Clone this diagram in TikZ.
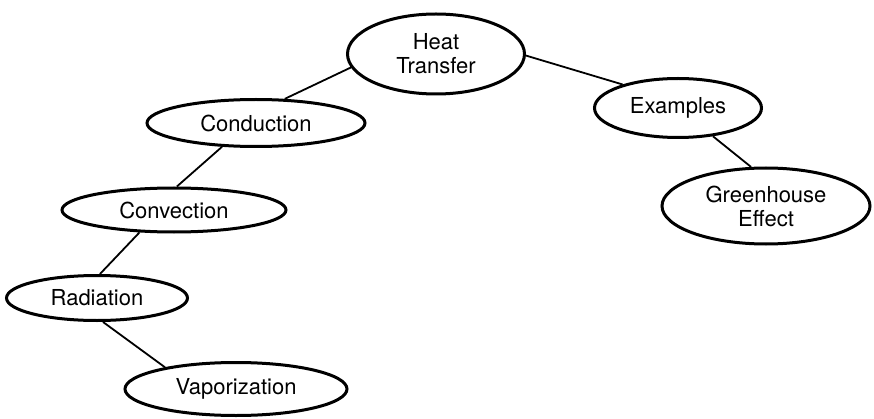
\documentclass[tikz,border=0pt]{standalone}
\usepackage{fontspec}
\setmainfont{TeX Gyre Heros}
\usetikzlibrary{shapes.geometric}

\begin{document}
\begin{tikzpicture}[x=1pt,y=1pt,
  topic/.style={ellipse,draw,line width=3pt,fill=white,inner sep=0pt,
    align=center,font=\fontsize{22}{24}\selectfont},
  link/.style={line width=1.8pt}]
\useasboundingbox (0,0) rectangle (874,418);
%\draw (0,0) rectangle (874,418);
\node[topic,minimum width=177,minimum height=80] (heat) at (436,364) {Heat\\Transfer};
\node[topic,minimum width=218,minimum height=47] (cond) at (256,295) {Conduction};
\node[topic,minimum width=224,minimum height=44] (conv) at (174,208) {Convection};
\node[topic,minimum width=181,minimum height=45] (rad) at (97,120) {Radiation};
\node[topic,minimum width=222,minimum height=53] (vap) at (236,29) {Vaporization};
\node[topic,minimum width=167,minimum height=59] (exam) at (678,310) {Examples};
\node[topic,minimum width=208,minimum height=76] (green) at (766,212) {Greenhouse\\Effect};
\draw[link] (heat.189) -- (cond.40);
\draw[link] (cond.215) -- (conv.83);
\draw[link] (conv.213) -- (rad.83);
\draw[link] (rad.284) -- (vap.163);
\draw[link] (heat.-1) -- (exam.157);
\draw[link] (exam.321) -- (green.111);
\end{tikzpicture}
\end{document}
